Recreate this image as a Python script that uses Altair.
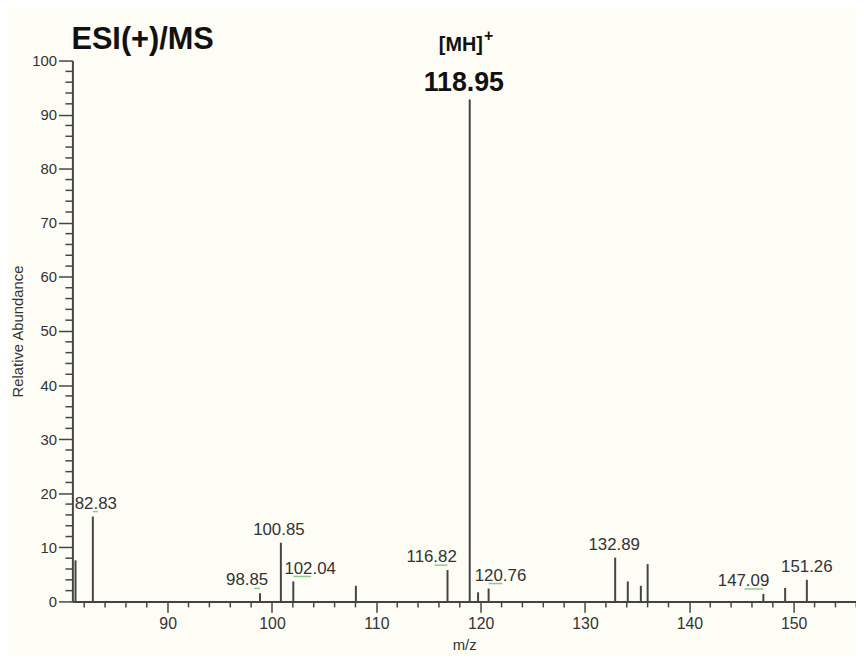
import altair as alt
import pandas as pd

# Peaks (m/z, relative abundance %)
peak_mz = [81.17, 82.83, 98.85, 100.85, 102.04, 108.04, 116.82, 118.95, 119.75,
           120.76, 132.89, 134.10, 135.35, 136.00, 147.09, 149.18, 151.26]
peak_int = [7.6, 15.7, 1.5, 10.85, 3.7, 2.9, 5.8, 92.8, 1.7,
            2.4, 8.1, 3.7, 2.9, 6.9, 1.4, 2.5, 4.0]

# Labelled peaks
label_mz = [82.83, 98.85, 100.85, 102.04, 116.82, 120.76, 132.89, 147.09, 151.26]
label_text = ["82.83", "98.85", "100.85", "102.04", "116.82", "120.76", "132.89", "147.09", "151.26"]

base_peak_mz = [118.95]
base_peak_text = ["118.95"]
header_text = ["ESI(+)/MS"]

x_major = [90, 100, 110, 120, 130, 140, 150]
y_major = [0, 10, 20, 30, 40, 50, 60, 70, 80, 90, 100]
x_minor = [v for v in range(82, 157, 2) if v % 10 != 0]
y_minor = [v for v in range(0, 101, 2) if v % 10 != 0]

FONT = "Liberation Sans"
BG = "#fdfdf5"
INK = "#333333"
AX = "#444444"

peaks = pd.DataFrame({"mz": peak_mz, "int": peak_int})
lookup = dict(zip(peak_mz, peak_int))
labels = pd.DataFrame({"mz": label_mz, "int": [lookup[m] for m in label_mz], "t": label_text})
base = pd.DataFrame({"mz": base_peak_mz, "int": [lookup[m] for m in base_peak_mz],
                     "t": base_peak_text, "ion": ["[MH]"], "plus": ["+"]})
header = pd.DataFrame({"t": header_text})
xmin_df = pd.DataFrame({"xv": x_minor})
ymin_df = pd.DataFrame({"yv": y_minor})

W, H = 791, 546
xscale = alt.Scale(domain=[80.87, 155.97], nice=False, zero=False)
yscale = alt.Scale(domain=[0, 100], nice=False)

xaxis = alt.Axis(
    values=x_major, tickCount=100, format="d",
    tickSize=11, labelFontSize=16, labelFont=FONT, labelColor=INK, labelPadding=3,
    title="m/z", titleFont=FONT, titleFontSize=15, titleFontWeight="normal",
    titleColor=INK, titlePadding=6,
    domainColor=AX, domainWidth=2, tickColor=AX, tickWidth=1.5,
    grid=False, labelFlush=False, labelOverlap=False,
)
yaxis = alt.Axis(
    values=y_major, tickCount=100, format="d",
    tickSize=14, labelFontSize=15, labelFont=FONT, labelColor=INK, labelPadding=2,
    title="Relative Abundance", titleFont=FONT, titleFontSize=15,
    titleFontWeight="normal", titleColor=INK, titlePadding=6,
    domainColor=AX, domainWidth=2, tickColor=AX, tickWidth=1.5,
    grid=False, labelFlush=False, labelOverlap=False,
)

sticks = alt.Chart(peaks).mark_rule(color="#444444", strokeWidth=2).encode(
    x=alt.X("mz:Q", scale=xscale, axis=xaxis),
    y=alt.Y("int:Q", scale=yscale, axis=yaxis),
    y2=alt.datum(0),
)

# minor axis ticks every 2 units
xminor = alt.Chart(xmin_df).mark_rule(color=AX, strokeWidth=1.5).encode(
    x=alt.X("xv:Q", scale=xscale), y=alt.value(H), y2=alt.value(H + 6))
yminor = alt.Chart(ymin_df).mark_rule(color=AX, strokeWidth=1.5).encode(
    y=alt.Y("yv:Q", scale=yscale), x=alt.value(0), x2=alt.value(-7))

# horizontal offsets of labels as placed by the instrument software (style)
label_dx = {82.83: 3, 98.85: -13, 100.85: -2, 102.04: 17, 116.82: -16,
            120.76: 12, 132.89: -1, 147.09: -20, 151.26: 0}
# green connector marks (style)
green_dx = {98.85: -6, 102.04: 18, 116.82: -13, 120.76: 14, 147.09: -19, 82.83: 5}

layers = [sticks, xminor, yminor]
for m in label_mz:
    sub = labels[labels.mz == m]
    layers.append(
        alt.Chart(sub).mark_text(font=FONT, fontSize=17, color=INK, baseline="middle",
                                 align="center", dx=label_dx[m], dy=-13).encode(
            x=alt.X("mz:Q", scale=xscale), y=alt.Y("int:Q", scale=yscale), text="t:N")
    )
    if m in green_dx:
        layers.append(
            alt.Chart(sub).mark_rule(color="#8fc98f", strokeWidth=1.5,
                                     x2Offset=green_dx[m], yOffset=-5, y2Offset=-5).encode(
                x=alt.X("mz:Q", scale=xscale), x2="mz:Q",
                y=alt.Y("int:Q", scale=yscale), y2="int:Q")
        )

layers.append(
    alt.Chart(base).mark_text(font=FONT, fontSize=27, fontWeight="bold", color="#111111",
                              baseline="middle", align="center", dx=-6, dy=-17).encode(
        x=alt.X("mz:Q", scale=xscale), y=alt.Y("int:Q", scale=yscale), text="t:N")
)
layers.append(
    alt.Chart(base).mark_text(font=FONT, fontSize=20, fontWeight="bold", color="#111111",
                              baseline="middle", align="center", dx=-9, dy=-55).encode(
        x=alt.X("mz:Q", scale=xscale), y=alt.Y("int:Q", scale=yscale), text="ion:N")
)
layers.append(
    alt.Chart(base).mark_text(font=FONT, fontSize=16, fontWeight="bold", color="#111111",
                              baseline="middle", align="center", dx=19, dy=-64).encode(
        x=alt.X("mz:Q", scale=xscale), y=alt.Y("int:Q", scale=yscale), text="plus:N")
)
# instrument header, top-left of the plot frame
layers.append(
    alt.Chart(header).mark_text(font=FONT, fontSize=31, fontWeight="bold", color="#111111",
                                baseline="alphabetic", align="left").encode(
        x=alt.value(-1), y=alt.value(-12), text="t:N")
)

chart = alt.layer(*layers).properties(
    width=W, height=H,
    background=BG,
    padding={"left": 65, "top": 50, "right": 0, "bottom": 51},
    autosize=alt.AutoSizeParams(type="none"),
).configure_view(stroke=None)

chart.save("out.html", embed_options={"renderer": "svg", "actions": False})
